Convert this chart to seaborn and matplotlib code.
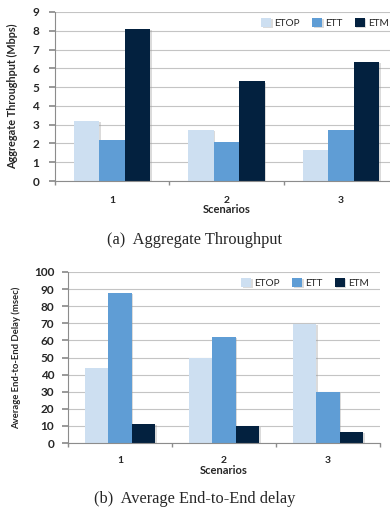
import matplotlib
matplotlib.use('Agg')
import matplotlib.pyplot as plt
import matplotlib.patheffects as pe
import numpy as np
import pandas as pd
import seaborn as sns

scenarios = ['1', '2', '3']
methods = ['ETOP', 'ETT', 'ETM']
throughput_etop = [3.2, 2.7, 1.65]
throughput_ett = [2.2, 2.1, 2.7]
throughput_etm = [8.1, 5.3, 6.35]
delay_etop = [44, 50, 69.5]
delay_ett = [87.5, 62, 30]
delay_etm = [11, 10, 6.5]

palette = {'ETOP': '#CDDFF1', 'ETT': '#5F9DD5', 'ETM': '#03213F'}


def long_form(etop, ett, etm):
    rows = []
    for name, vals in zip(methods, [etop, ett, etm]):
        for s, v in zip(scenarios, vals):
            rows.append({'Scenario': s, 'Method': name, 'Value': v})
    return pd.DataFrame(rows)


sns.set_theme(style='white')
plt.rcParams['font.family'] = ['Lato', 'DejaVu Sans']

fig = plt.figure(figsize=(3.9, 5.12), dpi=100)


def draw_panel(ax, df, ymax, step, ylabel, ylabel_size, ylabel_x, ytick_pad, xtick_pad, xlabel_y,
               legend_anchor, caption, caption_y):
    sns.barplot(data=df, x='Scenario', y='Value', hue='Method', palette=palette,
                hue_order=methods, order=scenarios, width=0.67, ax=ax,
                saturation=1, linewidth=0, errorbar=None)
    for p in ax.patches:
        p.set_path_effects([pe.SimplePatchShadow(offset=(1.2, -0.8), shadow_rgbFace='#999999', alpha=0.35),
                            pe.Normal()])
    ax.set_xlim(-0.5, 2.5)
    ax.set_ylim(0, ymax)
    ax.set_yticks(np.arange(0, ymax + step / 2, step))
    ax.yaxis.grid(True, color='#c4c4c4', linewidth=0.8)
    ax.set_axisbelow(True)
    for s in ['top', 'right']:
        ax.spines[s].set_visible(False)
    for s in ['left', 'bottom']:
        ax.spines[s].set_color('#8c8c8c')
        ax.spines[s].set_linewidth(0.8)
    ax.tick_params(axis='y', left=True, length=4, color='#8c8c8c', pad=ytick_pad, labelsize=8.5)
    ax.tick_params(axis='x', which='major', bottom=False, length=0, pad=xtick_pad, labelsize=7.5)
    ax.set_xticks([-0.5, 0.5, 1.5, 2.5], minor=True)
    ax.tick_params(axis='x', which='minor', bottom=True, length=3, color='#8c8c8c')
    for lbl in ax.get_xticklabels() + ax.get_yticklabels():
        lbl.set_fontweight('bold')
    ax.set_xlabel('Scenarios', fontsize=8, fontweight='bold')
    ax.xaxis.set_label_coords(0.5, xlabel_y)
    ax.set_ylabel(ylabel, fontsize=ylabel_size, fontweight='bold')
    ax.yaxis.set_label_coords(ylabel_x, 0.5)
    ax.legend(loc='upper right', bbox_to_anchor=legend_anchor, bbox_transform=fig.transFigure,
              ncol=3, frameon=False, fontsize=7.2, handlelength=1.0, handleheight=1.0,
              handletextpad=0.35, columnspacing=1.2, borderaxespad=0)
    fig.text(0.5, caption_y, caption, ha='center', va='center', fontsize=11.8,
             family=['Liberation Serif', 'DejaVu Serif'])


ax1 = fig.add_axes([55 / 390, 1 - 181 / 512, 343 / 390, 169 / 512])
draw_panel(ax1, long_form(throughput_etop, throughput_ett, throughput_etm), 9, 1,
           'Aggregate Throughput (Mbps)', 7.8, -0.108, 7.5, 11, -0.136,
           (1.0 + 3 / 390, 1 - 14 / 512),
           '(a)  Aggregate Throughput', 1 - 240 / 512)

ax2 = fig.add_axes([68 / 390, 1 - 443 / 512, 312 / 390, 171 / 512])
draw_panel(ax2, long_form(delay_etop, delay_ett, delay_etm), 100, 10,
           'Average End-to-End Delay (msec)', 6.8, -0.151, 6, 9.5, -0.129,
           (373 / 390, 1 - 274 / 512),
           '(b)  Average End-to-End delay', 1 - 499 / 512)

fig.savefig('out.png', dpi=100)
